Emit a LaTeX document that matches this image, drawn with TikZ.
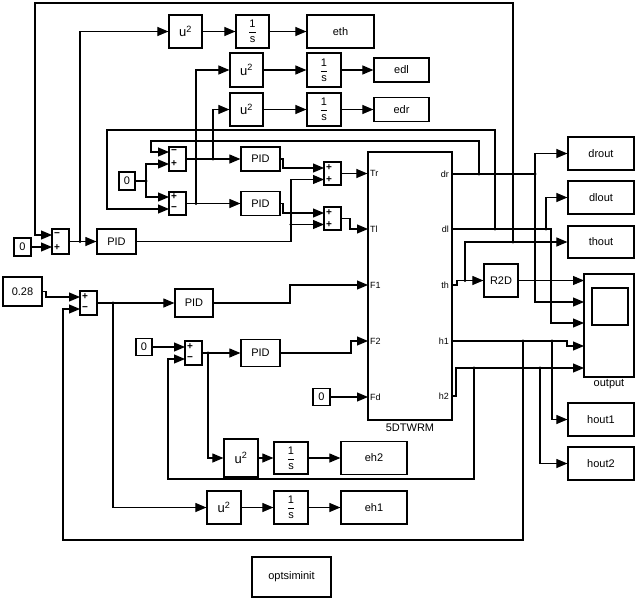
\documentclass[tikz,border=0pt]{standalone}
\usepackage{amsmath}
\usepackage{fontspec}
\setmainfont{Liberation Sans}
\usetikzlibrary{arrows.meta}
\newcommand\usq{{\fontsize{13}{14}\selectfont u\textsuperscript{2}}}
\newcommand\intfr{{\fontsize{11}{12}\selectfont$\genfrac{}{}{0.7pt}{0}{\text{1}}{\text{s}}$}}
\begin{document}
\begin{tikzpicture}[x=1pt,y=-1pt,
  blk/.style={draw, line width=1.2pt, inner sep=0pt, font=\fontsize{11}{13}\selectfont},
  sz/.style 2 args={minimum width=#1pt, minimum height=#2pt},
  wire/.style={line width=1.1pt},
  arr/.style={wire, -{Triangle[length=11pt,width=9pt]}},
  sgn/.style={inner sep=0pt, font=\fontsize{10}{10}\selectfont\bfseries},
  port/.style={inner sep=0pt, font=\fontsize{9}{10}\selectfont},
  lbl/.style={inner sep=0pt, font=\fontsize{11}{13}\selectfont}]
\useasboundingbox (0,0) rectangle (638,600);
% ---- blocks
\node[blk,sz={33}{33}] (u2a) at (185.5,31.5) {\usq};
\node[blk,sz={33}{33}] (inta) at (252.5,31.5) {\intfr};
\node[blk,sz={67}{33}] (eth) at (340.5,31.5) {eth};
\node[blk,sz={33}{34}] (u2b) at (246.5,70) {\usq};
\node[blk,sz={34}{34}] (intb) at (324,70) {\intfr};
\node[blk,sz={55}{24}] (edl) at (401.5,70) {edl};
\node[blk,sz={33}{33}] (u2c) at (246.5,109.5) {\usq};
\node[blk,sz={34}{33}] (intc) at (324,109.5) {\intfr};
\node[blk,sz={55}{24}] (edr) at (401.5,109.5) {edr};
\node[blk,sz={17}{24}] (sumA) at (177.5,159) {};
\node[blk,sz={17}{23}] (sumB) at (177.5,203.5) {};
\node[blk,sz={16}{18}] (c2) at (127,181) {0};
\node[blk,sz={39}{24}] (PIDr) at (260.5,159) {PID};
\node[blk,sz={39}{24}] (PIDl) at (260.5,203.5) {PID};
\node[blk,sz={17}{23}] (sumTr) at (332.5,173.5) {};
\node[blk,sz={17}{23}] (sumTl) at (332.5,218.5) {};
\node[blk,sz={84}{268}] (sys) at (410,286) {};
\node[blk,sz={17}{18}] (c1) at (22.5,247) {0};
\node[blk,sz={17}{25}] (sum1) at (60.5,241.5) {};
\node[blk,sz={39}{25}] (PID1) at (116.5,241.5) {PID};
\node[blk,sz={39}{29}] (c028) at (22.5,291.5) {0.28};
\node[blk,sz={17}{24}] (sum3) at (88.5,303) {};
\node[blk,sz={38}{28}] (PID3) at (194,303) {PID};
\node[blk,sz={16}{17}] (c4) at (144,347) {0};
\node[blk,sz={17}{24}] (sum4) at (193.5,353) {};
\node[blk,sz={39}{27}] (PID4) at (260.5,353) {PID};
\node[blk,sz={17}{17}] (cFd) at (321.5,397) {0};
\node[blk,sz={34}{38}] (u2d) at (241,458) {\usq};
\node[blk,sz={34}{32}] (intd) at (291,458) {\intfr};
\node[blk,sz={66}{33}] (eh2) at (374,458) {eh2};
\node[blk,sz={34}{33}] (u2e) at (224,507.5) {\usq};
\node[blk,sz={34}{33}] (inte) at (291,507.5) {\intfr};
\node[blk,sz={66}{33}] (eh1) at (374,507.5) {eh1};
\node[blk,sz={79}{40}] (opt) at (291.5,577) {optsiminit};
\node[blk,sz={34}{33}] (R2D) at (501,280.5) {R2D};
\node[blk,sz={50}{103}] (scope) at (609,325.5) {};
\draw[line width=1.2pt] (592,288) rectangle (628,325);
\node[lbl] (scopelbl) at (609,384) {output};
\node[blk,sz={66}{33}] (drout) at (601,153.5) {drout};
\node[blk,sz={66}{33}] (dlout) at (601,197.5) {dlout};
\node[blk,sz={66}{32}] (thout) at (601,242) {thout};
\node[blk,sz={66}{33}] (hout1) at (601,419.5) {hout1};
\node[blk,sz={66}{33}] (hout2) at (601,463.5) {hout2};
\node[lbl] (syslbl) at (410,428) {5DTWRM};
% ---- signs
\node[sgn] (gA1) at (174,152) {−};   \node[sgn] (gA2) at (174,164) {+};
\node[sgn] (gB1) at (174,197) {+};   \node[sgn] (gB2) at (174,209) {−};
\node[sgn] (g11) at (57,235) {−};    \node[sgn] (g12) at (57,247.5) {+};
\node[sgn] (gT1) at (329,168) {+};   \node[sgn] (gT2) at (329,179.5) {+};
\node[sgn] (gL1) at (329,213) {+};   \node[sgn] (gL2) at (329,224.5) {+};
\node[sgn] (g31) at (85,297) {+};    \node[sgn] (g32) at (85,309) {−};
\node[sgn] (g41) at (190,347) {+};   \node[sgn] (g42) at (190,359) {−};
% ---- port labels
\node[port,anchor=west] (lTr) at (370,173.5) {Tr};
\node[port,anchor=west] (lTl) at (370,229) {Tl};
\node[port,anchor=west] (lF1) at (370,285) {F1};
\node[port,anchor=west] (lF2) at (370,341) {F2};
\node[port,anchor=west] (lFd) at (370,397) {Fd};
\node[port,anchor=east] (ldr) at (449,174) {dr};
\node[port,anchor=east] (ldl) at (449,229) {dl};
\node[port,anchor=east] (lth) at (449,285) {th};
\node[port,anchor=east] (lh1) at (449,341) {h1};
\node[port,anchor=east] (lh2) at (449,396) {h2};
% ---- coordinates
\coordinate (pTl) at (368,229); \coordinate (pF1) at (368,285);
\coordinate (pF2) at (368,341); \coordinate (pFd) at (368,397);
\coordinate (pdr) at (452,174); \coordinate (pdl) at (452,229);
\coordinate (pth) at (452,285); \coordinate (ph1) at (452,341);
\coordinate (ph2) at (452,396);
\coordinate (sA1) at (169,152); \coordinate (sA2) at (169,164);
\coordinate (sB1) at (169,197); \coordinate (sB2) at (169,209);
\coordinate (s11) at (52,235);  \coordinate (s12) at (52,247);
\coordinate (sT1) at (324,168); \coordinate (sT2) at (324,179.5);
\coordinate (sL1) at (324,213); \coordinate (sL2) at (324,224.5);
\coordinate (s31) at (80,297);  \coordinate (s32) at (80,309);
\coordinate (s41) at (185,347); \coordinate (s42) at (185,359);
\coordinate (sc1) at (584,280.5); \coordinate (sc2) at (584,302);
\coordinate (sc3) at (584,323); \coordinate (sc4) at (584,346);
\coordinate (sc5) at (584,368);
\coordinate (j1) at (80,241.5);  \coordinate (j2) at (291,224.5);
\coordinate (j3) at (146,181);   \coordinate (j4) at (213,159);
\coordinate (j5) at (196,203.5); \coordinate (j6) at (113,303);
\coordinate (j7) at (208,353);   \coordinate (j8) at (479,174);
\coordinate (j9) at (535,174);   \coordinate (j10) at (495,229);
\coordinate (j11) at (546,229);  \coordinate (j12) at (465,280.5);
\coordinate (j13) at (513,242);  \coordinate (j14) at (523,341);
\coordinate (j15) at (552,341);  \coordinate (j16) at (474,368);
\coordinate (j17) at (540,368);
% ---- connectors
\draw[arr] (u2a) -- (inta); \draw[arr] (inta) -- (eth);
\draw[arr] (u2b) -- (intb); \draw[arr] (intb) -- (edl);
\draw[arr] (u2c) -- (intc); \draw[arr] (intc) -- (edr);
\draw[arr] (u2d) -- (intd); \draw[arr] (intd) -- (eh2);
\draw[arr] (u2e) -- (inte); \draw[arr] (inte) -- (eh1);
\draw[arr] (c1.east) -- (s12);
\draw[arr] (j13) |- (35,3) |- (s11);
\draw[arr] (sum1.east) -- (PID1.west);
\draw[arr] (j1) |- (u2a.west);
\draw[arr] (PID1.east) -| (291,179.5) -- (sT2);
\draw[arr] (j2) -- (sL2);
\draw[wire] (c2.east) -- (j3);
\draw[arr] (j3) |- (sA2); \draw[arr] (j3) |- (sB1);
\draw[arr] (sumA.east) -- (PIDr.west);
\draw[arr] (sumB.east) -- (PIDl.west);
\draw[arr] (j4) |- (u2c.west);
\draw[arr] (j5) |- (u2b.west);
\draw[arr] (PIDr.east) -- (283,159) |- (sT1);
\draw[arr] (PIDl.east) -- (283,203.5) |- (sL1);
\draw[arr] (sumTr.east) -- (sumTr.east -| sys.west);
\draw[arr] (sumTl.east) -- (350,218.5) |- (pTl);
\draw[arr] (c028.east) -- (46,291.5) |- (s31);
\draw[arr] (sum3.east) -- (PID3.west);
\draw[arr] (j6) |- (u2e.west);
\draw[arr] (PID3.east) -- (290,303) |- (pF1);
\draw[arr] (c4.east) -- (s41);
\draw[arr] (sum4.east) -- (PID4.west);
\draw[arr] (j7) |- (u2d.west);
\draw[arr] (PID4.east) -- (351,353) |- (pF2);
\draw[arr] (cFd.east) -- (pFd);
% outputs
\draw[wire] (pdr) -- (j9);
\draw[arr] (j8) |- (151,141) |- (sA1);
\draw[arr] (j9) |- (drout.west);
\draw[arr] (j9) |- (sc2);
\draw[arr] (pdl) -- (551,229) |- (sc3);
\draw[arr] (j10) |- (107,130) |- (sB2);
\draw[arr] (j11) |- (dlout.west);
\draw[arr] (pth) -- (457,285) |- (R2D.west);
\draw[arr] (j12) |- (thout.west);
\draw[arr] (R2D.east) -- (sc1);
\draw[arr] (ph1) -- (567,341) |- (sc4);
\draw[arr] (j14) |- (63,540) |- (s32);
\draw[arr] (j15) |- (hout1.west);
\draw[arr] (ph2) -- (456,396) |- (sc5);
\draw[arr] (j16) |- (168,479) |- (s42);
\draw[arr] (j17) |- (hout2.west);
% ---- junction dots
\foreach \j in {j1,j2,j3,j4,j5,j6,j7,j8,j9,j10,j11,j12,j13,j14,j15,j16,j17}
  \fill (\j) circle (1.7pt);
\end{tikzpicture}
\end{document}
